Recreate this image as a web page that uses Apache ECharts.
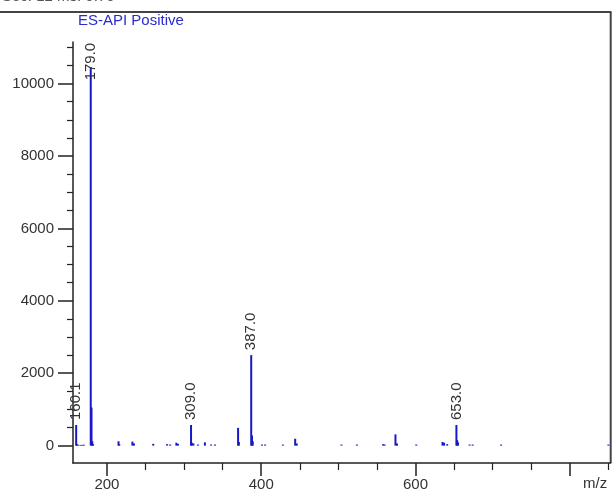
<!DOCTYPE html>
<html>
<head>
<meta charset="utf-8">
<script src="https://cdn.jsdelivr.net/npm/echarts@6/dist/echarts.min.js"></script>
<style>
html,body{margin:0;padding:0;background:#fff;}
#chart{width:613px;height:493px;}
</style>
</head>
<body>
<div id="chart"></div>
<script>
// m/z values of the peaks
var mzValues = [160.1, 161, 163, 166, 168, 170, 179, 180, 181, 182, 215, 216, 233, 235, 260, 278, 282, 290, 292,
  309, 310, 312, 318, 327, 335, 340, 370, 371, 387, 388, 389, 401, 405, 428, 444, 446, 504, 524, 558, 560,
  574, 576, 601, 635, 637, 641, 653, 654, 655, 670, 674, 711, 850];
// intensities of the peaks
var intensities = [570, 40, 25, 20, 20, 25, 10450, 1050, 120, 40, 120, 40, 110, 60, 50, 40, 30, 80, 50,
  570, 80, 60, 30, 90, 30, 30, 490, 100, 2500, 280, 120, 30, 30, 30, 190, 60, 30, 30, 40, 30,
  310, 60, 30, 100, 80, 40, 570, 150, 90, 30, 30, 30, 30];
// labelled peaks
var labelledMz = [160.1, 179, 309, 387, 653];
// axis ticks
var xMajorTicks = [200, 400, 600, 800];
var xLabelTicks = [200, 400, 600];
var xMinorTicks = [250, 300, 350, 450, 500, 550, 650, 700, 750, 850];
var yMajorTicks = [0, 2000, 4000, 6000, 8000, 10000];
var yMinorTicks = [500, 1000, 1500, 2500, 3000, 3500, 4500, 5000, 5500, 6500, 7000, 7500, 8500, 9000, 9500, 10500, 11000];
var titleText = 'ES-API Positive';
var headerText = 'Sec: 12 ms: 0.70';
var xName = 'm/z';

var FONT = "'Liberation Sans', Arial, sans-serif";
var BLUE = '#1818c8';

var data = mzValues.map(function (mz, i) {
  var item = { value: [mz, intensities[i]] };
  if (labelledMz.indexOf(mz) >= 0) {
    item.label = {
      show: true,
      formatter: mz.toFixed(1),
      position: 'top',
      distance: 5,
      rotate: 90,
      align: 'left',
      verticalAlign: 'middle',
      color: '#333',
      fontSize: 15,
      fontFamily: FONT
    };
    if (mz === 179) {
      item.label.position = ['50%', 13];
    }
  }
  return item;
});

var chart = echarts.init(document.getElementById('chart'), null, { renderer: 'canvas' });
var xRange = { min: 156, max: 853 };
var yRange = { min: -480, max: 11150 };

chart.setOption({
  animation: false,
  backgroundColor: '#fff',
  grid: { left: 73, right: 2.3, top: 42, bottom: 30, containLabel: false },
  xAxis: [
    {
      type: 'value', position: 'bottom', min: xRange.min, max: xRange.max,
      axisLine: { show: true, onZero: false, lineStyle: { color: '#222', width: 1.5 } },
      axisTick: { show: true, customValues: xMajorTicks, length: 13, lineStyle: { color: '#222', width: 1.5 } },
      axisLabel: { show: true, customValues: xLabelTicks, margin: 14, color: '#333', fontSize: 15, fontFamily: FONT,
        formatter: function (v) { return String(v); } },
      splitLine: { show: false }
    },
    {
      type: 'value', position: 'bottom', min: xRange.min, max: xRange.max,
      axisLine: { show: false, onZero: false },
      axisTick: { show: true, customValues: xMinorTicks, length: 7, lineStyle: { color: '#222', width: 1.2 } },
      axisLabel: { show: false },
      splitLine: { show: false }
    }
  ],
  yAxis: [
    {
      type: 'value', position: 'left', min: yRange.min, max: yRange.max,
      axisLine: { show: true, onZero: false, lineStyle: { color: '#222', width: 1.5 } },
      axisTick: { show: true, customValues: yMajorTicks, length: 15, lineStyle: { color: '#222', width: 1.5 } },
      axisLabel: { show: true, customValues: yMajorTicks, margin: 19, color: '#333', fontSize: 15, fontFamily: FONT,
        formatter: function (v) { return String(v); } },
      splitLine: { show: false }
    },
    {
      type: 'value', position: 'left', min: yRange.min, max: yRange.max,
      axisLine: { show: false, onZero: false },
      axisTick: { show: true, customValues: yMinorTicks, length: 6, lineStyle: { color: '#222', width: 1.2 } },
      axisLabel: { show: false },
      splitLine: { show: false }
    }
  ],
  series: [{
    type: 'bar',
    xAxisIndex: 0,
    yAxisIndex: 0,
    barWidth: 2,
    itemStyle: { color: BLUE },
    data: data
  }],
  graphic: [
    { type: 'line', shape: { x1: 0, y1: 12, x2: 611.5, y2: 12 }, style: { stroke: '#444', lineWidth: 2 } },
    { type: 'line', shape: { x1: 610.7, y1: 12, x2: 610.7, y2: 463 }, style: { stroke: '#444', lineWidth: 2 } },
    { type: 'text', left: 78, top: 13, style: { text: titleText, fill: '#2b2bcc', font: '15px ' + FONT } },
    { type: 'text', x: 2, y: -11, style: { text: headerText, fill: '#555', font: '15px ' + FONT, verticalAlign: 'top' } },
    { type: 'text', x: 583, y: 476, style: { text: xName, fill: '#333', font: '15px ' + FONT, verticalAlign: 'top' } }
  ]
});
</script>
</body>
</html>
